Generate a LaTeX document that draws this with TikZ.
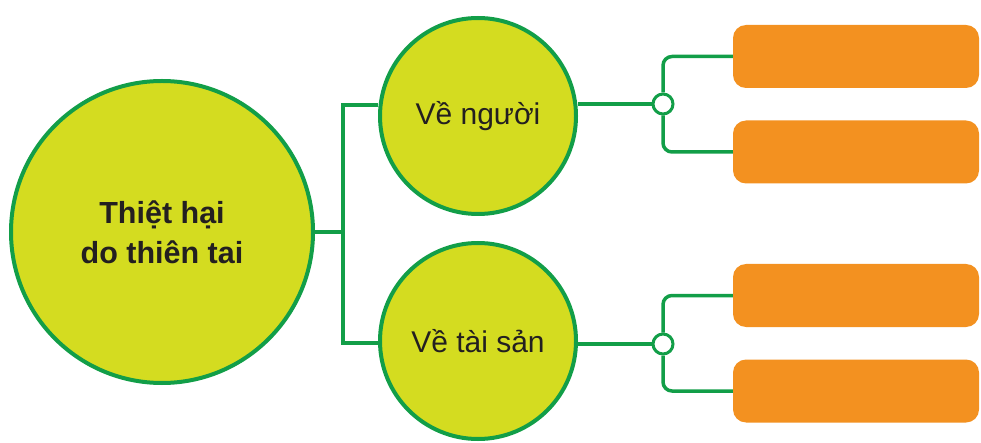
\documentclass[tikz,border=0pt]{standalone}
\usepackage{fontspec}
\setmainfont{Liberation Sans}
\usetikzlibrary{backgrounds}
\definecolor{cfill}{RGB}{212,220,32}
\definecolor{cgreen}{RGB}{18,158,72}
\definecolor{corange}{RGB}{243,145,32}
\definecolor{ctext}{RGB}{35,31,32}
\tikzset{
  bigcirc/.style={circle, draw=cgreen, fill=cfill, line width=4pt, inner sep=0pt, minimum size=#1, text=ctext},
  conn/.style={draw=cgreen, line width=3.5pt},
  junc/.style={circle, draw=cgreen, fill=white, line width=3pt, inner sep=0pt, minimum size=20pt},
  obox/.style={rectangle, rounded corners=13pt, fill=corange, minimum width=246pt, minimum height=63pt, inner sep=0pt},
  lbl/.style={font=\fontsize{30}{36}\selectfont}
}
\begin{document}
\begin{tikzpicture}[x=1pt,y=-1pt]
\useasboundingbox (0,0) rectangle (981,443);
\node[bigcirc=302pt, align=center, font=\bfseries\fontsize{30.5}{40}\selectfont] (big) at (162,232) {Thiệt hại\\do thiên tai};
\node[bigcirc=196pt, lbl] (up) at (478,116) {Về người};
\node[bigcirc=196pt, lbl] (lo) at (478,341) {Về tài sản};
\coordinate (jm) at (343,232);
\coordinate (jt) at (343,105);
\coordinate (jb) at (343,343);
\node[junc] (ju) at (663,104) {};
\node[junc] (jl) at (663,344) {};
\node[obox] (b1) at (856,56.5) {};
\node[obox] (b2) at (856,152) {};
\node[obox] (b3) at (856,295.5) {};
\node[obox] (b4) at (856,391) {};
\begin{scope}[on background layer]
\draw[conn] (big.east) -- (jm);
\draw[conn, line cap=rect] (jt) -- (jb);
\draw[conn] (jt) -- (jt -| up.west);
\draw[conn] (jb) -- (jb -| lo.west);
\draw[conn] (ju -| up.east) -- (ju);
\draw[conn] (jl -| lo.east) -- (jl);
\draw[conn, rounded corners=9pt] (ju.north) |- (b1.west);
\draw[conn, rounded corners=9pt] (ju.south) |- (b2.west);
\draw[conn, rounded corners=9pt] (jl.north) |- (b3.west);
\draw[conn, rounded corners=9pt] (jl.south) |- (b4.west);
\end{scope}
\end{tikzpicture}
\end{document}
